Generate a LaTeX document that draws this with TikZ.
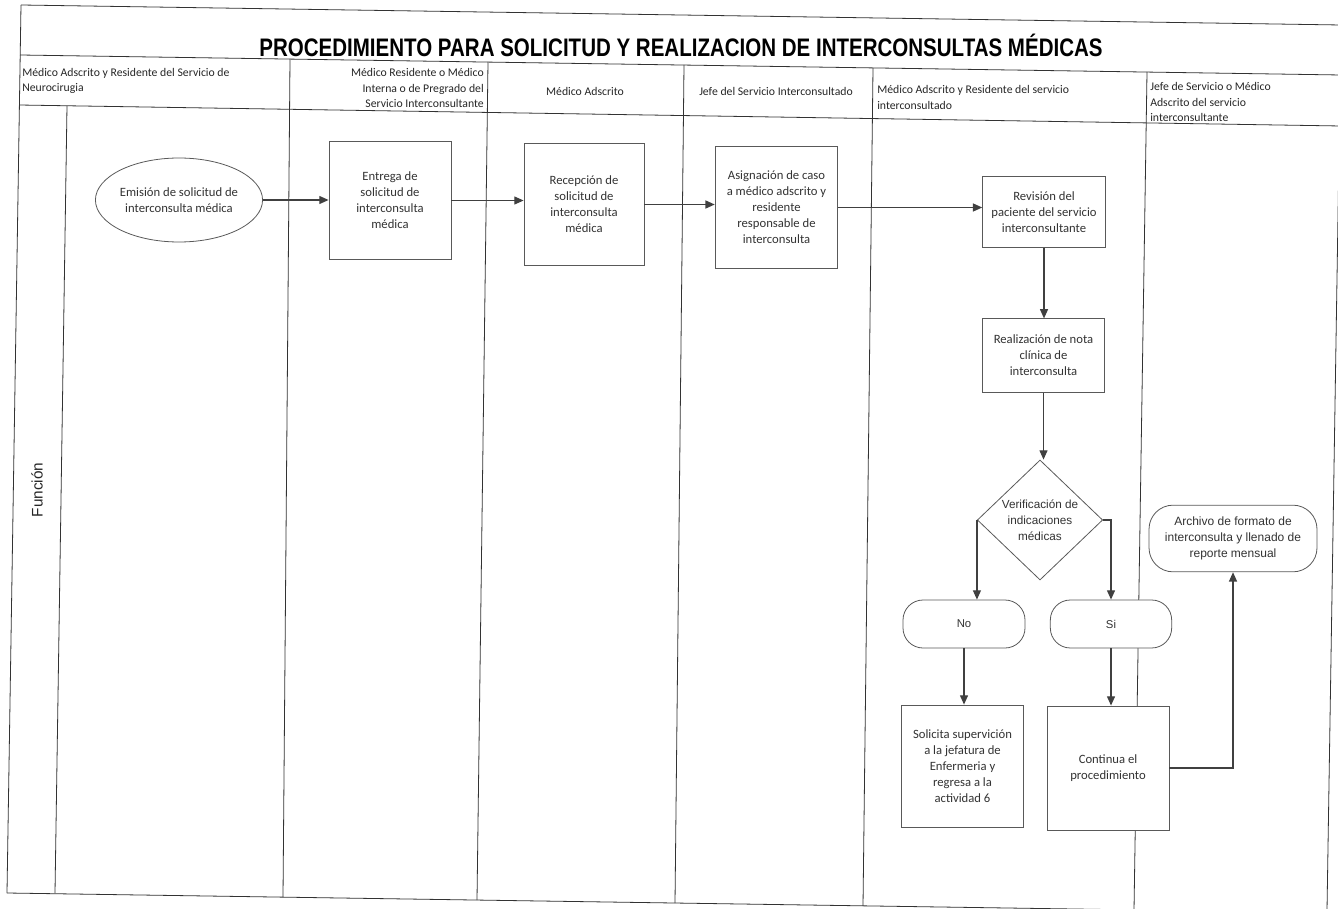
\documentclass[tikz,border=0pt]{standalone}
\usepackage{fontspec}
\usepackage{graphicx}
\setmainfont{Carlito}
\newfontfamily\arialfont{Liberation Sans}
\usetikzlibrary{arrows.meta,shapes.geometric}

\tikzset{
  frameline/.style={draw=black!80, line width=0.6pt},
  actbox/.style={rectangle, draw=black!65, fill=white, line width=0.6pt, align=center,
    inner sep=1pt, text=black!80, font=\fontsize{9.5}{12}\selectfont},
  startnode/.style={ellipse, draw=black!65, fill=white, line width=0.6pt, align=center,
    inner sep=0pt, minimum width=114pt, minimum height=63pt, text=black!80,
    font=\fontsize{9.5}{12}\selectfont},
  decision/.style={diamond, draw=black!65, fill=white, line width=0.6pt, align=center,
    inner sep=0pt, minimum width=94pt, minimum height=90pt, text=black!80,
    font=\arialfont\fontsize{8.8}{12}\selectfont},
  termbox/.style={rectangle, rounded corners=15pt, draw=black!65, fill=white, line width=0.6pt,
    align=center, inner sep=1pt, text=black!80, font=\arialfont\fontsize{8.5}{12}\selectfont},
  lanehead/.style={inner sep=0pt, text=black!85, font=\fontsize{8.8}{11.3}\selectfont},
  flow/.style={draw=black!75, line width=1pt, -{Triangle[length=7pt,width=6pt]}}
}

\begin{document}
\begin{tikzpicture}[x=0.75pt,y=0.75pt,yscale=-1,xscale=1]
\path[use as bounding box, clip] (0,0) rectangle (1338,909);

%Frame lines
\draw[frameline] (21,5) -- (1341,25);
\draw[frameline] (20,55) -- (1341,75);
\draw[frameline] (19,105) -- (1341,126);
\draw[frameline] (7,893) -- (1341,913);
\draw[frameline] (21,5) -- (7,893);
\draw[frameline] (1341,25) -- (1327,910);
%Lane lines
\draw[frameline] (67,106) -- (55,893);
\draw[frameline] (290,59) -- (283,897);
\draw[frameline] (488,62) -- (477,900);
\draw[frameline] (684,65) -- (675,903);
\draw[frameline] (873,68) -- (863,906);
\draw[frameline] (1147,72) -- (1134,910);

% Title
\node (titulo) at (681,45) [font=\arialfont\bfseries\fontsize{19}{22}\selectfont]
  {\scalebox{0.81}[1]{PROCEDIMIENTO PARA SOLICITUD Y REALIZACION DE INTERCONSULTAS MÉDICAS}};

% Lane headings
\node (head1) at (22,68) [lanehead, anchor=north west, align=left]
  {Médico Adscrito y Residente del Servicio de\\Neurocirugia};
\node (head2) at (484,88) [lanehead, anchor=east, align=right]
  {Médico Residente o Médico\\Interna o de Pregrado del\\Servicio Interconsultante};
\node (head3) at (585,91) [lanehead] {Médico Adscrito};
\node (head4) at (776,91) [lanehead] {Jefe del Servicio Interconsultado};
\node (head5) at (877,97.5) [lanehead, anchor=west, align=left]
  {Médico Adscrito y Residente del servicio\\interconsultado};
\node (head6) at (1150,102) [lanehead, anchor=west, align=left]
  {Jefe de Servicio o Médico\\Adscrito del servicio\\interconsultante};
\node (funcion) at (37,490) [rotate=90, inner sep=0pt, text=black!85,
  font=\arialfont\fontsize{11.5}{13}\selectfont] {Función};

% Activities
\node (emision) at (179,200) [startnode] {Emisión de solicitud de\\interconsulta médica};
\node (entrega) at (390,200.5) [actbox, minimum width=91.5pt, minimum height=88pt]
  {Entrega de\\solicitud de\\interconsulta\\médica};
\node (recepcion) at (584,204.5) [actbox, minimum width=90pt, minimum height=91pt]
  {Recepción de\\solicitud de\\interconsulta\\médica};
\node (asignacion) at (776.5,207.5) [actbox, minimum width=92pt, minimum height=91pt]
  {Asignación de caso\\a médico adscrito y\\residente\\responsable de\\interconsulta};
\node (revision) at (1044,212) [actbox, minimum width=92pt, minimum height=53pt]
  {Revisión del\\paciente del servicio\\interconsultante};
\node (nota) at (1043.5,355.5) [actbox, minimum width=91pt, minimum height=55pt]
  {Realización de nota\\clínica de\\interconsulta};
\node (verif) at (1040,520) [decision] {Verificación de\\indicaciones\\médicas};
\node (no) at (964,624) [termbox, minimum width=91.5pt, minimum height=36pt] {No};
\node (si) at (1111,624) [termbox, minimum width=91pt, minimum height=36pt] {Si};
\node (solicita) at (962.5,766) [actbox, minimum width=91pt, minimum height=91.5pt]
  {Solicita supervición\\a la jefatura de\\Enfermeria y\\regresa a la\\actividad 6};
\node (continua) at (1108,768) [actbox, minimum width=91.5pt, minimum height=93pt]
  {Continua el\\procedimiento};
\node (archivo) at (1233,538.5) [termbox, rounded corners=18pt, minimum width=126pt,
  minimum height=50pt, font=\arialfont\fontsize{9}{12}\selectfont]
  {Archivo de formato de\\interconsulta y llenado de\\reporte mensual};

% Connectors
\draw[flow] (emision.east) -- (emision.east -| entrega.west);
\draw[flow] (entrega.east) -- (entrega.east -| recepcion.west);
\draw[flow] (recepcion.east) -- (recepcion.east -| asignacion.west);
\draw[flow] (asignacion.east) -- (asignacion.east -| revision.west);
\draw[flow] (revision.south) -- (revision.south |- nota.north);
\draw[flow] (nota.south) -- (nota.south |- verif.north);
\draw[flow] (verif.west) -- (verif.west |- no.north);
\draw[flow] (verif.east) -| (si.north);
\draw[flow] (no.south) -- (no.south |- solicita.north);
\draw[flow] (si.south) -- (si.south |- continua.north);
\draw[flow] (continua.east) -| (archivo.south);

\end{tikzpicture}
\end{document}
